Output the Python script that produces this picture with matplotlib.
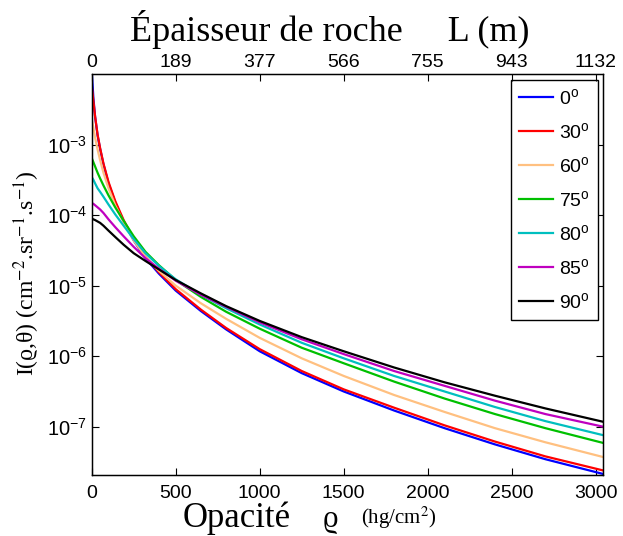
import matplotlib
matplotlib.use('Agg')
import matplotlib.pyplot as plt
import numpy as np

plt.rcParams['font.family'] = ['Liberation Sans', 'DejaVu Sans']
plt.rcParams['mathtext.fontset'] = 'custom'
plt.rcParams['mathtext.rm'] = 'Liberation Sans'
plt.rcParams['mathtext.it'] = 'Liberation Sans:italic'

# opacite (hg/cm2) et log10 du flux
rho = [0, 10, 20, 35, 50, 70, 100, 140, 190, 250, 320, 400, 500, 650, 800, 1000,
       1250, 1500, 1800, 2100, 2400, 2700, 3045]
log_i = {
    '0': [-1.95, -2.34, -2.60, -2.87, -3.06, -3.28, -3.55, -3.82, -4.09, -4.36, -4.61, -4.83,
          -5.07, -5.36, -5.62, -5.93, -6.24, -6.50, -6.77, -7.02, -7.25, -7.46, -7.67],
    '30': [-2.16, -2.38, -2.60, -2.86, -3.05, -3.27, -3.53, -3.80, -4.07, -4.34, -4.59, -4.81,
           -5.05, -5.34, -5.60, -5.90, -6.21, -6.47, -6.73, -6.98, -7.21, -7.42, -7.62],
    '60': [-2.64, -2.76, -2.90, -3.07, -3.22, -3.40, -3.62, -3.86, -4.10, -4.36, -4.59, -4.79,
           -5.00, -5.25, -5.47, -5.74, -6.03, -6.28, -6.55, -6.79, -7.02, -7.22, -7.43],
    '75': [-3.19, -3.25, -3.31, -3.40, -3.48, -3.58, -3.72, -3.89, -4.08, -4.30, -4.52, -4.71,
           -4.92, -5.16, -5.37, -5.61, -5.88, -6.10, -6.36, -6.60, -6.82, -7.02, -7.23],
    '80': [-3.46, -3.50, -3.55, -3.62, -3.67, -3.74, -3.85, -3.99, -4.15, -4.34, -4.54, -4.72,
           -4.91, -5.13, -5.32, -5.55, -5.81, -6.03, -6.28, -6.50, -6.72, -6.92, -7.12],
    '85': [-3.83, -3.84, -3.86, -3.89, -3.92, -3.97, -4.06, -4.17, -4.30, -4.45, -4.61, -4.76,
           -4.93, -5.13, -5.30, -5.52, -5.76, -5.97, -6.21, -6.42, -6.63, -6.82, -7.00],
    '90': [-4.05, -4.06, -4.07, -4.09, -4.11, -4.15, -4.22, -4.31, -4.42, -4.54, -4.65, -4.77,
           -4.92, -5.11, -5.29, -5.50, -5.73, -5.93, -6.16, -6.37, -6.56, -6.74, -6.93],
}
couleurs = ['#0000ff', '#ff0000', '#ffc080', '#00c000', '#00bfbf', '#bf00bf', '#000000']

xticks = [0, 500, 1000, 1500, 2000, 2500, 3000]
top_labels = ['0', '189', '377', '566', '755', '943', '1132']
yticks = [1e-7, 1e-6, 1e-5, 1e-4, 1e-3]
ytick_labels = ['10$^{-7}$', '10$^{-6}$', '10$^{-5}$', '10$^{-4}$', '10$^{-3}$']

fig = plt.figure(figsize=(6.23, 5.36), dpi=100)
ax = fig.add_axes([0.1472, 0.1138, 0.8212, 0.7481])

for (ang, vals), c in zip(log_i.items(), couleurs):
    ax.semilogy(rho, 10 ** np.array(vals), color=c, lw=1.6, label=ang + '$^{\\rm o}$')

ax.set_xlim(0, 3045)
ax.set_ylim(2.07e-8, 1e-2)
ax.set_xticks(xticks)
ax.set_xticklabels([str(v) for v in xticks], fontsize=14)
ax.set_yticks(yticks)
ax.set_yticklabels(ytick_labels, fontsize=14.5)
ax.minorticks_off()
ax.tick_params(direction='in', length=5, right=True, width=0.8)
ax.tick_params(axis='x', pad=7)
for s in ax.spines.values():
    s.set_linewidth(1.0)

ax2 = ax.twiny()
ax2.set_xlim(ax.get_xlim())
ax2.set_xticks(xticks)
ax2.set_xticklabels(top_labels, fontsize=14)
ax2.tick_params(direction='in', length=5, pad=2, width=0.8)

leg = ax.legend(loc='upper right', bbox_to_anchor=(0.9594, 0.8507), bbox_transform=fig.transFigure,
                fancybox=False, edgecolor='black', fontsize=14, handlelength=1.75,
                labelspacing=0.72, borderaxespad=0, handletextpad=0.3, borderpad=0.4)
leg.get_frame().set_linewidth(1.0)
leg.get_frame().set_alpha(1)

serif = ['Liberation Serif', 'DejaVu Serif']
fig.text(0.53, 0.945, 'Épaisseur de roche     L (m)', ha='center', va='center', fontsize=26, family=serif)
fig.text(0.466, 0.016, 'Opacité', ha='right', va='baseline', fontsize=25, family=serif)
fig.text(0.53, 0.016, 'ϱ', ha='center', va='baseline', fontsize=22, family=serif)
fig.text(0.58, 0.022, '(hg/cm$^2$)', ha='left', va='baseline', fontsize=15, family=serif, math_fontfamily='stix')
fig.text(0.043, 0.49, 'I(ϱ,θ) (cm$^{-2}$.sr$^{-1}$.s$^{-1}$)', rotation=90, ha='center', va='center',
         fontsize=17, family=serif, math_fontfamily='stix')

fig.savefig('out.png', dpi=100)
